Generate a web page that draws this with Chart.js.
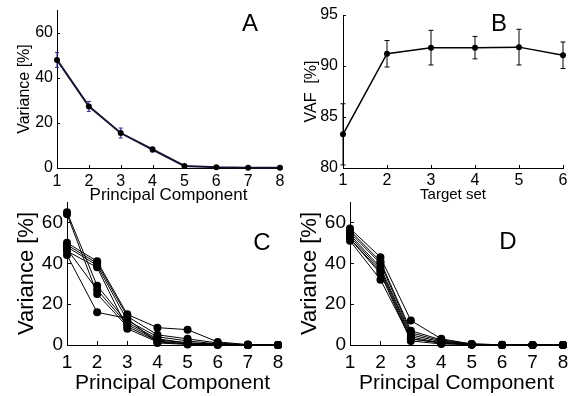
<!DOCTYPE html>
<html><head><meta charset="utf-8">
<script src="https://cdn.jsdelivr.net/npm/chart.js@4"></script>
<style>
html,body{margin:0;padding:0;background:#fff;}
#wrap{position:relative;width:570px;height:396px;overflow:hidden;background:#fff;}
canvas{position:absolute;}
</style></head><body>
<div id="wrap">
<canvas id="cA" width="290" height="206" style="left:0;top:0"></canvas>
<canvas id="cB" width="280" height="204" style="left:290px;top:0"></canvas>
<canvas id="cC" width="290" height="206" style="left:0;top:190px"></canvas>
<canvas id="cD" width="280" height="206" style="left:290px;top:190px"></canvas>
</div>
<script>
// ---- data ----
const pcLabels = ['1','2','3','4','5','6','7','8'];
const targetSetLabels = ['1','2','3','4','5','6'];
const varianceMeanA = [47.9, 27.3, 15.5, 8.2, 0.9, 0.3, 0.1, 0.1];
const varianceErrA  = [3.3, 2.2, 2.2, 1.1, 0, 0, 0, 0];
const vafMean = [83.3, 91.2, 91.8, 91.8, 91.85, 91.05];
const vafErr  = [3.0, 1.3, 1.7, 1.1, 1.75, 1.3];
const varianceTicksA = [0, 20, 40, 60];
const vafTicks = [80, 85, 90, 95];
// panel C: individual subjects
const c1 = [65, 29, 11, 3, 1, 0.5, 0.1, 0];
const c2 = [64, 25, 9, 2, 0.5, 0.3, 0, 0];
const c3 = [50, 41, 15, 8.5, 7.5, 1.5, 0.2, 0];
const c4 = [49, 40, 14, 5, 3, 1, 0.1, 0];
const c5 = [48, 39, 12, 4, 2, 0.5, 0, 0];
const c6 = [47, 27, 10, 2.5, 1, 0.3, 0, 0];
const c7 = [46, 38, 8, 1.5, 0.5, 0.2, 0, 0];
const c8 = [44, 16, 13, 1, 0.3, 0, 0, 0];
// panel D: individual subjects
const d1 = [57, 43, 12, 3, 0.5, 0.1, 0, 0];
const d2 = [56, 41, 7, 2.5, 0.5, 0.1, 0, 0];
const d3 = [55, 40, 6, 2, 0.4, 0, 0, 0];
const d4 = [54, 38, 5, 1.5, 0.3, 0, 0, 0];
const d5 = [53, 37, 4, 1, 0.3, 0, 0, 0];
const d6 = [52, 36, 3, 1, 0.2, 0, 0, 0];
const d7 = [52, 35, 2, 0.5, 0.2, 0, 0, 0];
const d8 = [51, 32, 3, 1, 0.2, 0, 0, 0];
const varianceTicksCD = [0, 20, 40, 60];

Chart.defaults.font.family = "'Liberation Sans', Arial, sans-serif";
Chart.defaults.color = '#000';

const inwardTicks = {
  id: 'inwardTicks',
  afterDraw(chart, args, opts) {
    const ctx = chart.ctx, xs = chart.scales.x, ys = chart.scales.y, L = opts.len || 4;
    ctx.save(); ctx.strokeStyle = '#000'; ctx.lineWidth = 1; ctx.beginPath();
    xs.ticks.forEach((t, i) => { const px = Math.round(xs.getPixelForTick(i)) + 0.5;
      ctx.moveTo(px, ys.bottom); ctx.lineTo(px, ys.bottom - L); });
    ys.ticks.forEach((t) => { const py = Math.round(ys.getPixelForValue(t.value)) + 0.5;
      ctx.moveTo(xs.left, py); ctx.lineTo(xs.left + L, py); });
    ctx.stroke(); ctx.restore();
  }
};
const errorBars = {
  id: 'errorBars',
  beforeDatasetsDraw(chart, args, opts) {
    if (!opts || !opts.errors) return;
    const ctx = chart.ctx, ys = chart.scales.y, meta = chart.getDatasetMeta(0);
    const vals = chart.data.datasets[0].data;
    ctx.save(); ctx.strokeStyle = opts.color; ctx.lineWidth = opts.width; ctx.beginPath();
    meta.data.forEach((pt, i) => {
      const e = opts.errors[i]; if (!e) return;
      const top = ys.getPixelForValue(vals[i] + e), bot = ys.getPixelForValue(vals[i] - e);
      const cx = pt.x, c = opts.cap;
      ctx.moveTo(cx, top); ctx.lineTo(cx, bot);
      ctx.moveTo(cx - c, top); ctx.lineTo(cx + c, top);
      ctx.moveTo(cx - c, bot); ctx.lineTo(cx + c, bot);
    });
    ctx.stroke(); ctx.restore();
  }
};
const panelLabel = {
  id: 'panelLabel',
  afterDraw(chart, args, opts) {
    const ctx = chart.ctx; ctx.save();
    ctx.font = opts.size + "px 'Liberation Sans', Arial, sans-serif";
    ctx.fillStyle = '#000'; ctx.textAlign = 'center'; ctx.textBaseline = 'middle';
    ctx.fillText(opts.text, chart.chartArea.left + opts.dx, chart.chartArea.top + opts.dy);
    ctx.restore();
  }
};

function makeChart(id, cfg) {
  const ticksList = cfg.yTicks;
  return new Chart(document.getElementById(id), {
    type: 'line',
    data: { labels: cfg.labels, datasets: cfg.datasets },
    plugins: [errorBars, inwardTicks, panelLabel],
    options: {
      responsive: false, animation: false,
      layout: { padding: { top: cfg.top, right: cfg.right, left: 0, bottom: 0 } },
      plugins: { legend: { display: false }, tooltip: { enabled: false },
        errorBars: cfg.err || {}, inwardTicks: { len: cfg.tickLen },
        panelLabel: cfg.letter },
      scales: {
        x: { type: 'category', offset: false,
          grid: { display: false, drawTicks: false },
          border: { display: true, color: '#000', width: 1 },
          ticks: { font: { size: cfg.xTickSize }, padding: cfg.xTickPad, maxRotation: 0, autoSkip: false },
          title: { display: true, text: cfg.xTitle, font: { size: cfg.xTitleSize },
                   padding: { top: 0, bottom: cfg.xTitlePad } },
          afterFit(s) { s.height = cfg.xH; s.paddingLeft = 0; s.paddingRight = 0; }
        },
        y: { min: cfg.yMin, max: cfg.yMax,
          grid: { display: false, drawTicks: false },
          border: { display: true, color: '#000', width: 1 },
          ticks: { font: { size: cfg.yTickSize }, padding: cfg.yTickPad, stepSize: 5 },
          afterBuildTicks(s) { s.ticks = ticksList.map(v => ({ value: v })); },
          title: { display: true, text: cfg.yTitle, font: { size: cfg.yTitleSize },
                   padding: { top: cfg.yTitlePad, bottom: 0 } },
          afterFit(s) { s.width = cfg.yW; s.paddingTop = 0; s.paddingBottom = 0; }
        }
      }
    }
  });
}

function lineSet(data, opts) {
  return Object.assign({ data: data, borderColor: '#000', borderWidth: 1, pointRadius: 4,
    pointBackgroundColor: '#000', pointBorderWidth: 0, pointHoverRadius: 4, tension: 0,
    fill: false, clip: false }, opts || {});
}

makeChart('cA', {
  labels: pcLabels, yMin: 0, yMax: 70, yTicks: varianceTicksA,
  datasets: [lineSet(varianceMeanA, { borderColor: '#12122e', borderWidth: 2, pointRadius: 3 })],
  err: { errors: varianceErrA, color: '#26268a', width: 1, cap: 2 },
  top: 10, right: 10, yW: 57, xH: 38, tickLen: 3,
  xTickSize: 16, xTickPad: 4, yTickSize: 16, yTickPad: 4,
  xTitle: 'Principal Component', xTitleSize: 17, xTitlePad: 0,
  yTitle: 'Variance [%]', yTitleSize: 16, yTitlePad: 15,
  letter: { text: 'A', size: 24, dx: 193, dy: 14 }
});
makeChart('cB', {
  labels: targetSetLabels, yMin: 80, yMax: 95, yTicks: vafTicks,
  datasets: [lineSet(vafMean, { borderWidth: 1.5, pointRadius: 3 })],
  err: { errors: vafErr, color: '#000', width: 1, cap: 2.5 },
  top: 15, right: 7, yW: 53, xH: 36, tickLen: 3,
  xTickSize: 16, xTickPad: 3, yTickSize: 16, yTickPad: 5,
  xTitle: 'Target set', xTitleSize: 15, xTitlePad: 0,
  yTitle: 'VAF  [%]', yTitleSize: 16, yTitlePad: 12,
  letter: { text: 'B', size: 24, dx: 156, dy: 9 }
});
makeChart('cC', {
  labels: pcLabels, yMin: 0, yMax: 70, yTicks: varianceTicksCD,
  datasets: [c1, c2, c3, c4, c5, c6, c7, c8].map(d => lineSet(d)),
  top: 12, right: 12, yW: 67, xH: 51, tickLen: 4,
  xTickSize: 19, xTickPad: 6, yTickSize: 19, yTickPad: 4,
  xTitle: 'Principal Component', xTitleSize: 21, xTitlePad: 0,
  yTitle: 'Variance [%]', yTitleSize: 22, yTitlePad: 14,
  letter: { text: 'C', size: 24, dx: 195, dy: 41 }
});
makeChart('cD', {
  labels: pcLabels, yMin: 0, yMax: 70, yTicks: varianceTicksCD,
  datasets: [d1, d2, d3, d4, d5, d6, d7, d8].map(d => lineSet(d)),
  top: 12, right: 7, yW: 60, xH: 51, tickLen: 4,
  xTickSize: 19, xTickPad: 6, yTickSize: 19, yTickPad: 4,
  xTitle: 'Principal Component', xTitleSize: 21, xTitlePad: 0,
  yTitle: 'Variance [%]', yTitleSize: 22, yTitlePad: 7,
  letter: { text: 'D', size: 24, dx: 158, dy: 40 }
});
</script>
</body></html>
